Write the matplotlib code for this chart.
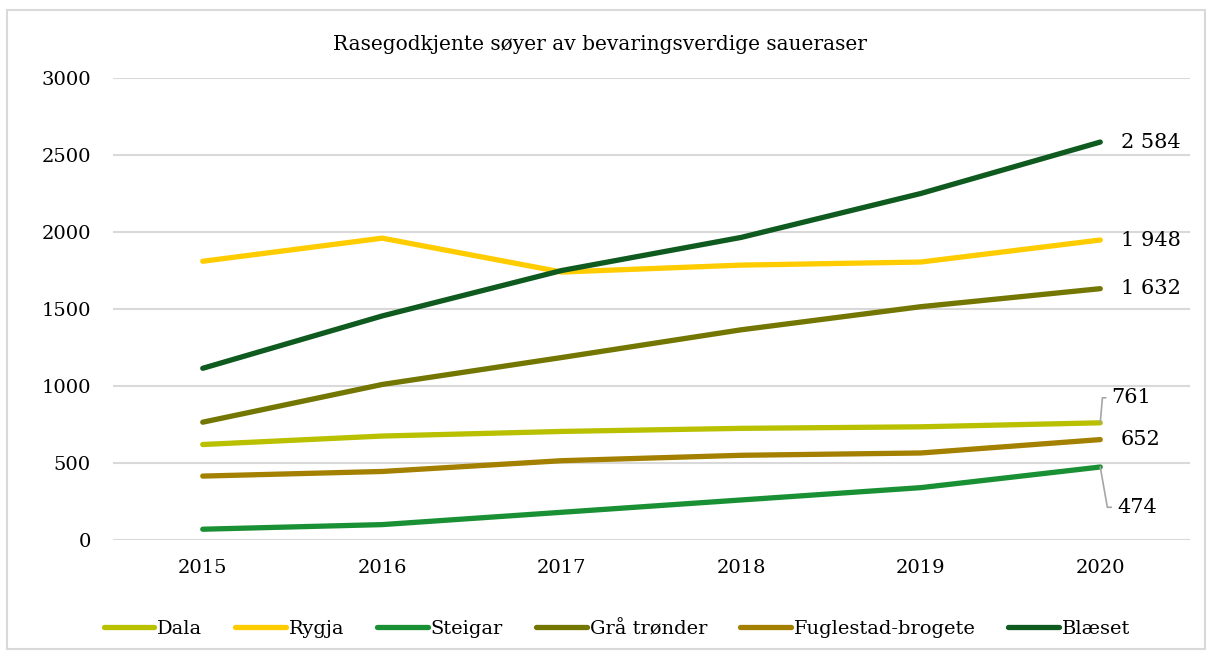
import matplotlib.pyplot as plt
from matplotlib.patches import Rectangle

years = ['2015', '2016', '2017', '2018', '2019', '2020']
dala = [620, 675, 705, 725, 735, 761]
rygja = [1810, 1960, 1740, 1785, 1805, 1948]
steigar = [70, 100, 180, 260, 340, 474]
graa_tronder = [765, 1010, 1185, 1365, 1515, 1632]
fuglestad = [415, 445, 515, 550, 565, 652]
blaeset = [1115, 1455, 1750, 1965, 2250, 2584]

series = [
    ('Dala', dala, '#b8c000'),
    ('Rygja', rygja, '#ffcc00'),
    ('Steigar', steigar, '#1a9035'),
    ('Grå trønder', graa_tronder, '#737600'),
    ('Fuglestad-brogete', fuglestad, '#a38000'),
    ('Blæset', blaeset, '#0e5a1f'),
]

plt.rcParams['font.family'] = ['DejaVu Serif']

fig = plt.figure(figsize=(12.13, 6.57), dpi=100)
ax = fig.add_axes([113 / 1213, 1 - 540 / 657, (1190 - 113) / 1213, 462 / 657])

x = list(range(len(years)))
for name, vals, col in series:
    ax.plot(x, vals, color=col, lw=3.8, solid_capstyle='round', label=name)

ax.set_xlim(-0.5, 5.5)
ax.set_ylim(0, 3000)
ax.set_yticks([0, 500, 1000, 1500, 2000, 2500, 3000])
ax.set_yticklabels(['0', '500', '1000', '1500', '2000', '2500', '3000'])
ax.set_xticks(x)
ax.set_xticklabels(years)
ax.tick_params(length=0, labelsize=14)
ax.tick_params(axis='y', pad=16)
ax.tick_params(axis='x', pad=14)
ax.grid(axis='y', color='#d9d9d9', lw=1.5)
ax.set_axisbelow(True)
for s in ax.spines.values():
    s.set_visible(False)

# data labels at 2020
def fmt(v):
    return f"{v:,}".replace(',', ' ')

for vals in [blaeset, rygja, graa_tronder, fuglestad]:
    ax.annotate(fmt(vals[-1]), (5, vals[-1]), xytext=(15, 0), textcoords='offset points',
                va='center', fontsize=15)
ax.annotate(fmt(dala[-1]), (5, dala[-1]), xytext=(8, 18), textcoords='offset points',
            va='center', ha='left', fontsize=15,
            arrowprops=dict(arrowstyle='-', color='#a6a6a6', lw=1.2,
                            connectionstyle='angle,angleA=0,angleB=85,rad=0',
                            shrinkA=2, shrinkB=0))
ax.annotate(fmt(steigar[-1]), (5, steigar[-1]), xytext=(12, -29), textcoords='offset points',
            va='center', ha='left', fontsize=15,
            arrowprops=dict(arrowstyle='-', color='#a6a6a6', lw=1.2,
                            connectionstyle='angle,angleA=0,angleB=-80,rad=0',
                            shrinkA=2, shrinkB=0))

fig.text(600 / 1213, 1 - 45 / 657, 'Rasegodkjente søyer av bevaringsverdige saueraser',
         ha='center', va='center', fontsize=14.5)

leg = fig.legend(loc='center', bbox_to_anchor=(617 / 1213, 1 - 629 / 657), ncol=6,
                 frameon=False, fontsize=14, handlelength=2.6, handletextpad=0.15,
                 columnspacing=1.7)

fig.patches.append(Rectangle((7 / 1213, 8 / 657), 1198 / 1213, 639 / 657,
                             transform=fig.transFigure, fill=False,
                             edgecolor='#d9d9d9', lw=1.5))

fig.savefig('out.png', dpi=100)
